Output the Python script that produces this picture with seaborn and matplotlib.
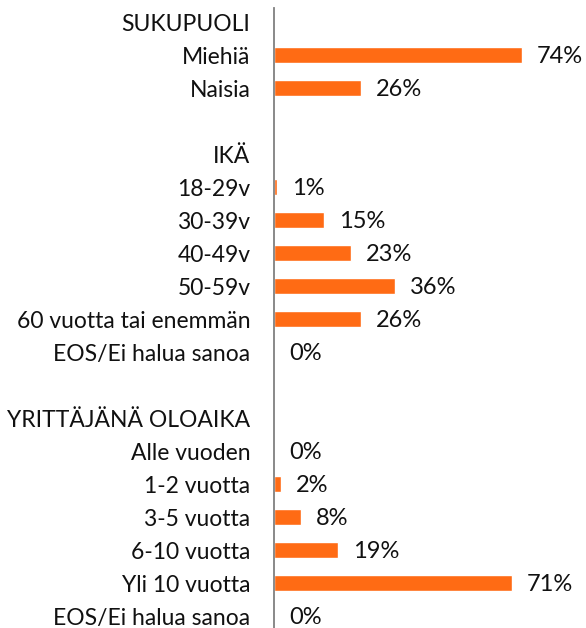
import numpy as np
import pandas as pd
import matplotlib.pyplot as plt
import seaborn as sns

# rows from top to bottom; headers and blank rows have no value
labels = ["SUKUPUOLI", "Miehiä", "Naisia", "",
          "IKÄ", "18-29v", "30-39v", "40-49v", "50-59v", "60 vuotta tai enemmän", "EOS/Ei halua sanoa", "",
          "YRITTÄJÄNÄ OLOAIKA", "Alle vuoden", "1-2 vuotta", "3-5 vuotta", "6-10 vuotta", "Yli 10 vuotta",
          "EOS/Ei halua sanoa"]
values = [np.nan, 74, 26, np.nan,
          np.nan, 1, 15, 23, 36, 26, 0, np.nan,
          np.nan, 0, 2, 8, 19, 71, 0]

bar_color = "#FF6B14"

df = pd.DataFrame({"pos": np.arange(len(labels)), "label": labels, "value": values})

sns.set_style("white")
plt.rcParams["font.family"] = ["Lato", "DejaVu Sans"]

fig = plt.figure(figsize=(5.86, 6.28), dpi=100)
ax = fig.add_axes([274 / 586, 0, 1 - 274 / 586, 1])

bars = df.dropna(subset=["value"])
sns.barplot(data=bars, x="value", y="pos", orient="h", native_scale=True,
            color=bar_color, width=0.5, saturation=1, ax=ax)

ax.set_xlim(0, (586 - 274) / 3.35)
ax.set_ylim((628 - 22) / 33, -22 / 33)
ax.set_yticks(df["pos"])
ax.set_yticklabels(df["label"], fontsize=16.5, color="#111111")
ax.tick_params(axis="y", length=0, pad=17)
ax.set_xticks([])
ax.set_xlabel("")
ax.set_ylabel("")

for s in ["top", "right", "bottom"]:
    ax.spines[s].set_visible(False)
ax.spines["left"].set_color("#808080")
ax.spines["left"].set_linewidth(1.3)
ax.spines["left"].set_bounds((8 - 22) / 33, (628 - 22) / 33)

for _, r in bars.iterrows():
    ax.annotate(f"{int(r['value'])}%", xy=(r["value"], r["pos"]), xytext=(15, -1),
                textcoords="offset pixels", ha="left", va="center", fontsize=17,
                color="#111111")

fig.savefig("out.png", dpi=100)
